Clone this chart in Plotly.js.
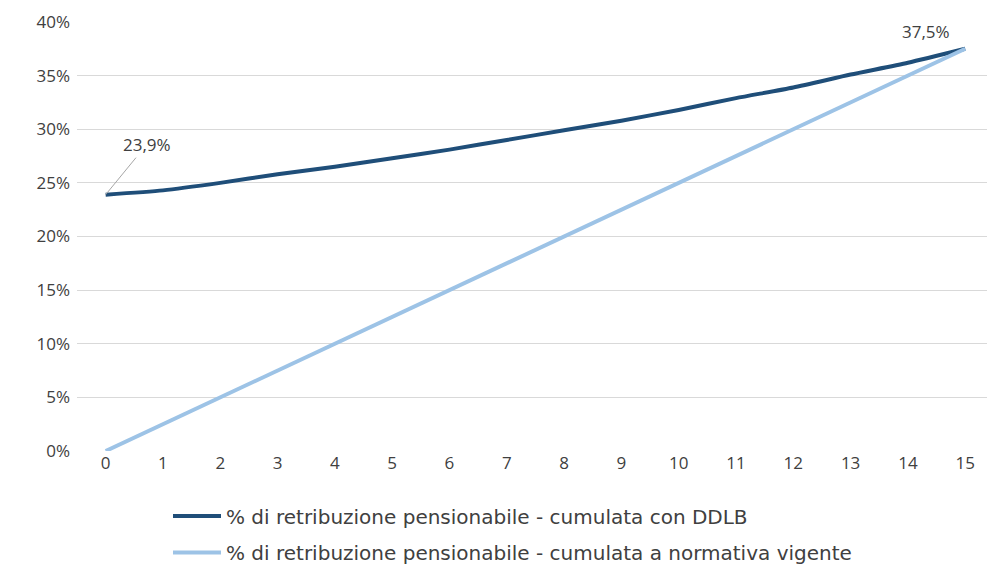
<!DOCTYPE html>
<html>
<head>
<meta charset="utf-8">
<script src="https://cdn.plot.ly/plotly-3.0.1.min.js"></script>
<style>
html,body{margin:0;padding:0;background:#fff;}
#chart{width:987px;height:565px;}
</style>
</head>
<body>
<div id="chart"></div>
<script>
const years = [0,1,2,3,4,5,6,7,8,9,10,11,12,13,14,15];
const ddlb = [23.9,24.3,25.0,25.8,26.5,27.3,28.1,29.0,29.9,30.8,31.8,32.9,33.9,35.1,36.2,37.5];
const vigente = [0,2.5,5,7.5,10,12.5,15,17.5,20,22.5,25,27.5,30,32.5,35,37.5];
const seriesNames = [
  "% di retribuzione pensionabile - cumulata con DDLB",
  "% di retribuzione pensionabile - cumulata a normativa vigente"
];
const yTicks = [0,5,10,15,20,25,30,35,40];

const FONT = "Open Sans, Liberation Sans, sans-serif";
const LFONT = "DejaVu Sans, Open Sans, sans-serif";
const TXT = '#404040';
const fmt = v => v.toFixed(1).replace('.', ',') + '%';

const traces = [
  {x: years, y: ddlb, name: seriesNames[0], type: 'scatter', mode: 'lines',
   line: {color: '#1f4e79', width: 4, shape: 'spline', smoothing: 0.6}, legend: 'legend'},
  {x: years, y: vigente, name: seriesNames[1], type: 'scatter', mode: 'lines',
   line: {color: '#9dc3e6', width: 4}, legend: 'legend2'}
];

const last = years.length - 1;
const layout = {
  width: 987, height: 565,
  margin: {l: 77, r: 0, t: 22, b: 114, autoexpand: false},
  paper_bgcolor: '#fff', plot_bgcolor: '#fff',
  font: {family: FONT, size: 17, color: TXT},
  showlegend: true,
  xaxis: {range: [-0.5, 15.38], tickvals: years, ticktext: years.map(String), showgrid: false,
          zeroline: false, showline: false, ticks: '', ticklabelstandoff: 0,
          tickfont: {family: FONT, size: 17, color: TXT}},
  yaxis: {range: [0, 40], tickvals: yTicks, ticktext: yTicks.map(v => v + '%'), showgrid: true,
          gridcolor: '#d9d9d9', gridwidth: 1, zeroline: false, showline: false, ticks: '',
          ticklabelstandoff: 6, tickfont: {family: FONT, size: 17, color: TXT}},
  legend: {x: 0.1, xanchor: 'left', y: -0.106, yanchor: 'top', orientation: 'h', itemwidth: 48,
           font: {family: LFONT, size: 20, color: TXT}, bgcolor: 'rgba(0,0,0,0)'},
  legend2: {x: 0.1, xanchor: 'left', y: -0.191, yanchor: 'top', orientation: 'h', itemwidth: 48,
           font: {family: LFONT, size: 20, color: TXT}, bgcolor: 'rgba(0,0,0,0)'},
  annotations: [
    {x: years[0], y: ddlb[0], text: fmt(ddlb[0]), showarrow: true, arrowhead: 0, arrowwidth: 1,
     arrowcolor: '#a6a6a6', ax: 41, ay: -50, standoff: 0,
     font: {family: FONT, size: 17, color: TXT}},
    {x: years[last], y: ddlb[last], text: fmt(ddlb[last]), showarrow: false,
     xshift: -39, yshift: 17, font: {family: FONT, size: 17, color: TXT}}
  ]
};

Plotly.newPlot('chart', traces, layout, {displayModeBar: false, staticPlot: true});
</script>
</body>
</html>
